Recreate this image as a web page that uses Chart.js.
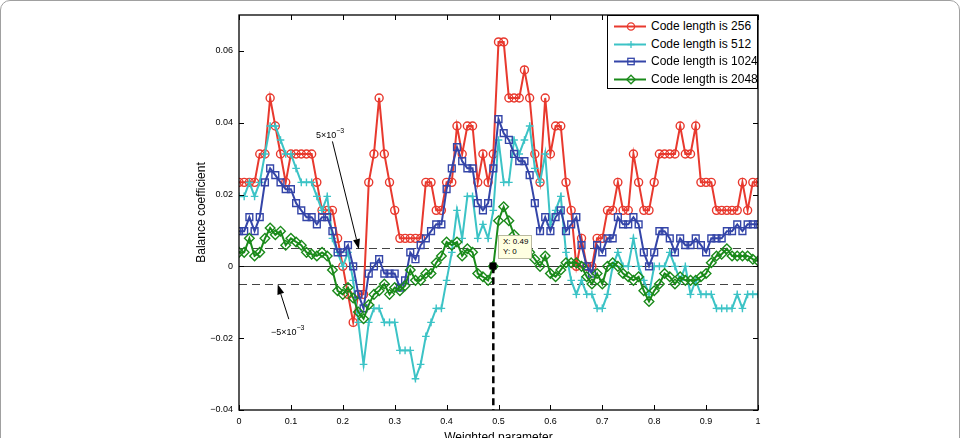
<!DOCTYPE html>
<html><head><meta charset="utf-8">
<script src="https://cdn.jsdelivr.net/npm/chart.js@4/dist/chart.umd.min.js"></script>
<style>
html,body{margin:0;padding:0;background:#fff;overflow:hidden;width:960px;height:438px;font-family:"Liberation Sans",Arial,sans-serif}
#frame{position:absolute;left:0;top:0;width:958px;height:480px;border:1px solid #a0a0a0;border-radius:10px}
#wrap{position:absolute;left:0;top:0;width:960px;height:460px}
canvas{display:block}
#legend{position:absolute;left:607px;top:15px;width:149px;height:72px;border:1px solid #000;background:#fff;font-size:12px;color:#000}
#legend .row{position:absolute;left:4px;height:17px;line-height:17px;white-space:nowrap}
#legend svg{position:absolute;left:0;top:0}
#legend span{position:absolute;left:39px;top:0}
.ann{position:absolute;font-size:9px;color:#000;white-space:nowrap}
.ann sup{font-size:7px;position:relative;top:-1px}
#tip{position:absolute;left:498px;top:235px;width:34px;height:24px;background:#ffffe1;border:1px solid #b9b9a0;font-size:8px;line-height:10px;padding:1px 0 0 4px;box-sizing:border-box;color:#000}
</style></head><body>
<div id="frame"></div>
<div id="wrap"><canvas id="c" width="960" height="460"></canvas></div>
<div id="legend"></div>
<div class="ann" style="left:316px;top:128px">5×10<sup>−3</sup></div>
<div class="ann" style="left:271px;top:325px">−5×10<sup>−3</sup></div>
<div id="tip">X: 0.49<br>Y: 0</div>
<script>
const weights = [0,0.01,0.02,0.03,0.04,0.05,0.06,0.07,0.08,0.09,0.1,0.11,0.12,0.13,0.14,0.15,0.16,0.17,0.18,0.19,0.2,0.21,0.22,0.23,0.24,0.25,0.26,0.27,0.28,0.29,0.3,0.31,0.32,0.33,0.34,0.35,0.36,0.37,0.38,0.39,0.4,0.41,0.42,0.43,0.44,0.45,0.46,0.47,0.48,0.49,0.5,0.51,0.52,0.53,0.54,0.55,0.56,0.57,0.58,0.59,0.6,0.61,0.62,0.63,0.64,0.65,0.66,0.67,0.68,0.69,0.7,0.71,0.72,0.73,0.74,0.75,0.76,0.77,0.78,0.79,0.8,0.81,0.82,0.83,0.84,0.85,0.86,0.87,0.88,0.89,0.9,0.91,0.92,0.93,0.94,0.95,0.96,0.97,0.98,0.99,1];

const code256 = [0.0234,0.0234,0.0234,0.0234,0.0313,0.0313,0.0469,0.0391,0.0313,0.0234,
0.0313,0.0313,0.0313,0.0313,0.0313,0.0234,0.0156,0.0156,0.0156,0.0078,
0,-0.0078,-0.0156,-0.0078,-0.0078,0.0234,0.0313,0.0469,0.0313,0.0234,
0.0156,0.0078,0.0078,0.0078,0.0078,0.0078,0.0234,0.0234,0.0156,0.0156,
0.0234,0.0234,0.0391,0.0313,0.0391,0.0391,0.0234,0.0313,0.0234,0.0313,
0.0625,0.0625,0.0469,0.0469,0.0469,0.0547,0.0469,0.0313,0.0234,0.0469,
0.0313,0.0391,0.0391,0.0234,0.0156,0,0.0078,0,0,0.0078,
0.0078,0.0156,0.0156,0.0234,0.0156,0.0156,0.0313,0.0234,0.0156,0.0156,
0.0234,0.0313,0.0313,0.0313,0.0313,0.0391,0.0313,0.0313,0.0391,0.0234,
0.0234,0.0234,0.0156,0.0156,0.0156,0.0156,0.0156,0.0234,0.0156,0.0234,0.0234];

const code512 = [0.0195,0.0195,0.0234,0.0195,0.0234,0.0313,0.0391,0.0391,0.0352,0.0313,
0.0313,0.0273,0.0234,0.0234,0.0234,0.0195,0.0156,0.0195,0.0078,0.0039,
0,0.0039,-0.0039,-0.0156,-0.0273,-0.0156,-0.0117,-0.0117,-0.0156,-0.0156,
-0.0156,-0.0234,-0.0234,-0.0234,-0.0313,-0.0273,-0.0195,-0.0156,-0.0117,-0.0117,
-0.0039,0.0039,0.0156,0.0078,0.0195,0.0195,0.0078,0.0117,0.0078,0.0156,
0.0352,0.0234,0.0234,0.0352,0.0313,0.0352,0.0391,0.0273,0.0234,0.0313,
0.0117,0.0156,0.0195,0.0039,-0.0039,-0.0078,-0.0039,-0.0078,-0.0078,-0.0117,
-0.0117,-0.0078,0,0.0039,0,0,0.0078,0,-0.0039,-0.0078,
0,0,0,0.0039,0,-0.0039,0,-0.0078,-0.0039,-0.0078,
-0.0078,-0.0078,-0.0117,-0.0117,-0.0117,-0.0117,-0.0078,-0.0117,-0.0078,-0.0078,-0.0078];

const code1024 = [0.0098,0.0098,0.0137,0.0098,0.0137,0.0234,0.0273,0.0254,0.0234,0.0215,
0.0215,0.0176,0.0156,0.0137,0.0137,0.0117,0.0137,0.0137,0.0098,0.0039,
0.0039,0.0059,0,-0.0078,-0.0117,-0.0020,0,0.0020,-0.0020,-0.0020,
-0.0020,-0.0059,-0.0039,0.0039,0.0020,0.0059,0.0078,0.0098,0.0117,0.0117,
0.0215,0.0273,0.0332,0.0293,0.0273,0.0273,0.0176,0.0156,0.0176,0.0273,
0.0410,0.0371,0.0352,0.0313,0.0293,0.0293,0.0254,0.0176,0.0098,0.0137,
0.0098,0.0137,0.0156,0.0098,0.0117,0.0137,0.0059,0,-0.0020,0.0059,
0.0039,0.0078,0.0078,0.0137,0.0117,0.0117,0.0137,0.0117,0.0039,0,
0.0039,0.0098,0.0098,0.0078,0.0039,0.0078,0.0059,0.0059,0.0078,0.0059,
0.0039,0.0078,0.0078,0.0078,0.0098,0.0098,0.0117,0.0098,0.0117,0.0117,0.0117];

const code2048 = [0.0039,0.0039,0.0078,0.0029,0.0039,0.0078,0.0107,0.0088,0.0098,0.0059,
0.0078,0.0068,0.0059,0.0039,0.0034,0.0029,0.0039,0.0029,-0.0010,-0.0068,
-0.0078,-0.0059,-0.0088,-0.0127,-0.0146,-0.0107,-0.0078,-0.0068,-0.0049,-0.0078,
-0.0059,-0.0068,-0.0054,-0.0010,-0.0039,-0.0039,-0.0020,-0.0020,0.0010,0.0029,
0.0068,0.0059,0.0068,0.0029,0.0049,0.0039,-0.0020,-0.0029,-0.0039,0,
0.0127,0.0166,0.0127,0.0088,0.0068,0.0068,0.0039,0.0020,0,0.0029,
-0.0020,-0.0029,-0.0010,0.0010,0.0010,0.0010,0,-0.0029,-0.0049,-0.0020,
-0.0049,0,0.0010,0,-0.0020,-0.0029,-0.0039,-0.0029,-0.0068,-0.0098,
-0.0068,-0.0049,-0.0020,-0.0029,-0.0049,-0.0029,-0.0039,-0.0039,-0.0039,-0.0029,
-0.0020,0.0010,0.0029,0.0034,0.0049,0.0029,0.0029,0.0029,0.0029,0.0020,0.0015];

const seriesNames = ['Code length is 256','Code length is 512','Code length is 1024','Code length is 2048'];
const xTicks = [0,0.1,0.2,0.3,0.4,0.5,0.6,0.7,0.8,0.9,1];
const xTickLabels = ['0','0.1','0.2','0.3','0.4','0.5','0.6','0.7','0.8','0.9','1'];
const yTicks = [-0.04,-0.02,0,0.02,0.04,0.06];
const yTickLabels = ['\u22120.04','\u22120.02','0','0.02','0.04','0.06'];
const threshold = 0.005;
const tipPoint = {x:0.49, y:0};

const colors = ['#e8392e','#3cc3c6','#3445a8','#1a8a1a'];
const styles = ['circle','cross','rect','rectRot'];
const radii = [4,3.8,4.8,4.8];
const allSeries = [code256, code512, code1024, code2048];

const datasets = allSeries.map((s, k) => ({
  label: seriesNames[k],
  data: s.map((v, i) => ({x: weights[i], y: v})),
  borderColor: colors[k],
  backgroundColor: 'rgba(0,0,0,0)',
  borderWidth: 2,
  pointStyle: styles[k],
  pointRadius: radii[k],
  pointBorderWidth: 1.4,
  pointBorderColor: colors[k],
  pointBackgroundColor: 'rgba(0,0,0,0)',
  tension: 0,
  order: 4 - k
}));

const FONT = '"Liberation Sans", Arial, sans-serif';

const decor = {
  id: 'decor',
  beforeDatasetsDraw(chart) {
    const {ctx, chartArea: a, scales: {x, y}} = chart;
    ctx.save();
    ctx.strokeStyle = '#333';
    ctx.lineWidth = 1;
    const y0 = Math.round(y.getPixelForValue(0)) + 0.5;
    ctx.beginPath(); ctx.moveTo(a.left, y0); ctx.lineTo(a.right, y0); ctx.stroke();
    ctx.setLineDash([8, 5]);
    ctx.strokeStyle = '#444';
    [threshold, -threshold].forEach(t => {
      const yy = Math.round(y.getPixelForValue(t)) + 0.5;
      ctx.beginPath(); ctx.moveTo(a.left, yy); ctx.lineTo(a.right, yy); ctx.stroke();
    });
    ctx.restore();
  },
  afterDatasetsDraw(chart) {
    const {ctx, chartArea: a, scales: {x, y}} = chart;
    ctx.save();
    const xp = x.getPixelForValue(tipPoint.x);
    const yp = y.getPixelForValue(tipPoint.y);
    ctx.strokeStyle = '#000';
    ctx.lineWidth = 2.5;
    ctx.setLineDash([7, 4]);
    ctx.beginPath(); ctx.moveTo(xp, yp); ctx.lineTo(xp, a.bottom); ctx.stroke();
    ctx.setLineDash([]);
    ctx.fillStyle = '#000';
    ctx.fillRect(Math.round(xp) - 3.5, Math.round(yp) - 3.5, 7, 7);
    const arrow = (x1, y1, x2, y2) => {
      const p1 = [x.getPixelForValue(x1), y.getPixelForValue(y1)];
      const p2 = [x.getPixelForValue(x2), y.getPixelForValue(y2)];
      const ang = Math.atan2(p2[1] - p1[1], p2[0] - p1[0]);
      const L = 10, W = 3.5;
      const bx = p2[0] - L * Math.cos(ang), by = p2[1] - L * Math.sin(ang);
      ctx.lineWidth = 1;
      ctx.strokeStyle = '#000';
      ctx.beginPath(); ctx.moveTo(p1[0], p1[1]); ctx.lineTo(bx, by); ctx.stroke();
      ctx.beginPath();
      ctx.moveTo(p2[0], p2[1]);
      ctx.lineTo(bx - W * Math.sin(ang), by + W * Math.cos(ang));
      ctx.lineTo(bx + W * Math.sin(ang), by - W * Math.cos(ang));
      ctx.closePath(); ctx.fill();
    };
    arrow(0.180, 0.0348, 0.231, 0.0048);
    arrow(0.096, -0.0147, 0.0746, -0.0050);
    ctx.strokeStyle = '#000';
    ctx.lineWidth = 1.3;
    ctx.strokeRect(a.left, a.top, a.right - a.left, a.bottom - a.top);
    ctx.lineWidth = 1;
    const tl = 5;
    xTicks.forEach(v => {
      const px = Math.round(x.getPixelForValue(v)) + 0.5;
      ctx.beginPath(); ctx.moveTo(px, a.bottom); ctx.lineTo(px, a.bottom - tl);
      ctx.moveTo(px, a.top); ctx.lineTo(px, a.top + tl); ctx.stroke();
    });
    yTicks.forEach(v => {
      const py = Math.round(y.getPixelForValue(v)) + 0.5;
      ctx.beginPath(); ctx.moveTo(a.left, py); ctx.lineTo(a.left + tl, py);
      ctx.moveTo(a.right, py); ctx.lineTo(a.right - tl, py); ctx.stroke();
    });
    ctx.restore();
  }
};

new Chart(document.getElementById('c'), {
  type: 'line',
  data: {datasets},
  options: {
    responsive: false,
    animation: false,
    events: [],
    layout: {padding: {left: 190, top: 15, right: 202, bottom: 0}},
    plugins: {legend: {display: false}, tooltip: {enabled: false}},
    scales: {
      x: {
        type: 'linear', min: 0, max: 1, position: 'bottom',
        afterFit(s) { s.height = 50; },
        afterBuildTicks(s) { s.ticks = xTicks.map(v => ({value: v})); },
        grid: {display: false, drawTicks: false},
        border: {display: false},
        ticks: {
          font: {family: FONT, size: 9}, color: '#000', padding: 6, maxRotation: 0, autoSkip: false,
          callback: (v, i) => xTickLabels[i]
        },
        title: {display: true, text: 'Weighted parameter', font: {family: FONT, size: 12}, color: '#000', padding: {top: 0, bottom: 15}}
      },
      y: {
        type: 'linear', min: -0.04, max: 0.07,
        afterFit(s) { s.width = 49; },
        afterBuildTicks(s) { s.ticks = yTicks.map(v => ({value: v})); },
        grid: {display: false, drawTicks: false},
        border: {display: false},
        ticks: {
          font: {family: FONT, size: 9}, color: '#000', padding: 6, autoSkip: false,
          callback: (v, i) => yTickLabels[i]
        },
        title: {display: true, text: 'Balance coefficient', font: {family: FONT, size: 12}, color: '#000', padding: {top: 4, bottom: 4}}
      }
    }
  },
  plugins: [decor]
});

const lg = document.getElementById('legend');
const markerSvg = (k) => {
  const c = colors[k];
  let m = '';
  if (k === 0) m = `<circle cx="19" cy="8.5" r="3.6" fill="none" stroke="${c}" stroke-width="1.3"/>`;
  if (k === 1) m = `<path d="M15.5 8.5h7M19 5v7" stroke="${c}" stroke-width="1.3"/>`;
  if (k === 2) m = `<rect x="15.8" y="5.3" width="6.4" height="6.4" fill="none" stroke="${c}" stroke-width="1.3"/>`;
  if (k === 3) m = `<path d="M19 4.2L23.3 8.5L19 12.8L14.7 8.5Z" fill="none" stroke="${c}" stroke-width="1.3"/>`;
  return `<svg width="36" height="17"><line x1="2" y1="8.5" x2="34" y2="8.5" stroke="${c}" stroke-width="2"/>${m}</svg>`;
};
seriesNames.forEach((n, k) => {
  const r = document.createElement('div');
  r.className = 'row';
  r.style.top = (2 + k * 17.5) + 'px';
  r.innerHTML = markerSvg(k) + `<span>${n}</span>`;
  lg.appendChild(r);
});
</script>
</body></html>
